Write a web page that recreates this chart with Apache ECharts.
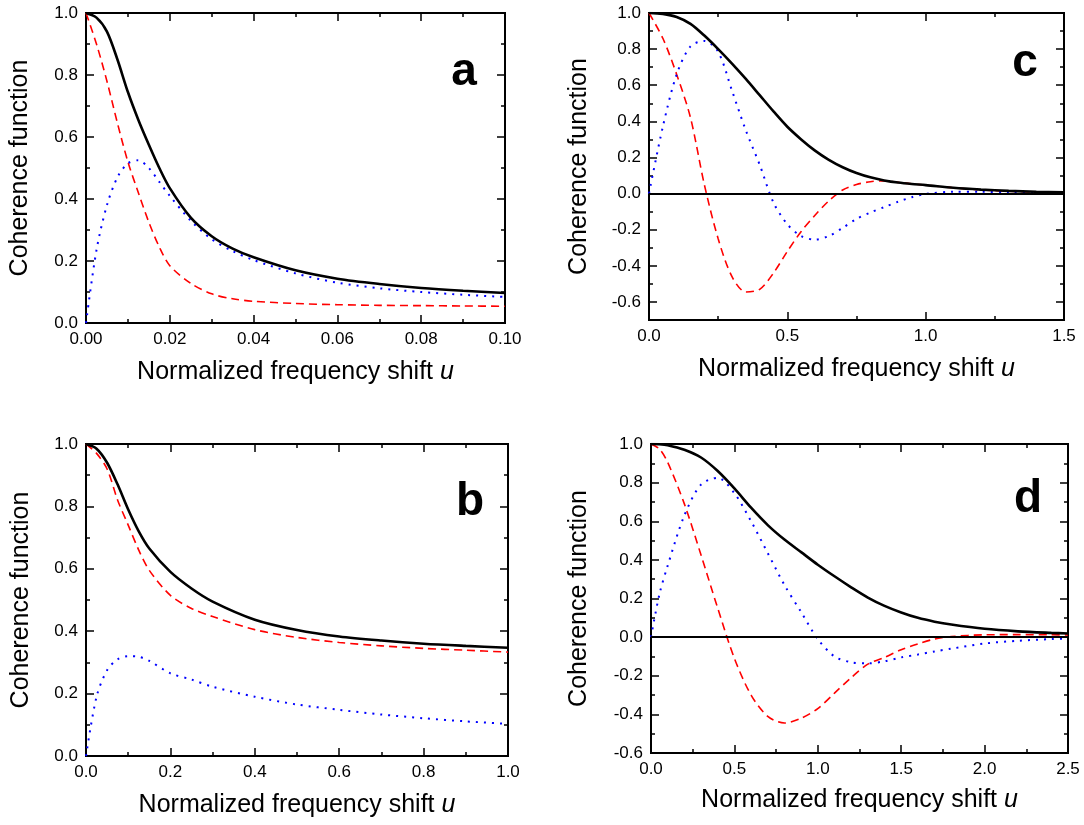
<!DOCTYPE html>
<html>
<head>
<meta charset="utf-8">
<script src="https://cdn.jsdelivr.net/npm/echarts@6/dist/echarts.min.js"></script>
<style>
html,body{margin:0;padding:0;background:#fff;}
#chart{width:1084px;height:825px;}
</style>
</head>
<body>
<div id="chart"></div>
<script>
// ---------- Panel a ----------
const aU      = [0, 0.0025, 0.005, 0.0075, 0.01, 0.0125, 0.015, 0.0175, 0.02, 0.025, 0.03, 0.035, 0.04, 0.05, 0.06, 0.07, 0.08, 0.09, 0.10];
const aSolid  = [1.0, 0.985, 0.94, 0.85, 0.745, 0.655, 0.575, 0.50, 0.435, 0.34, 0.28, 0.24, 0.212, 0.17, 0.143, 0.126, 0.113, 0.104, 0.097];
const aDashed = [1.0, 0.90, 0.78, 0.645, 0.52, 0.42, 0.325, 0.245, 0.185, 0.128, 0.094, 0.078, 0.07, 0.063, 0.059, 0.057, 0.056, 0.055, 0.054];
const aDotted = [0.0, 0.235, 0.38, 0.47, 0.515, 0.525, 0.50, 0.455, 0.41, 0.33, 0.27, 0.232, 0.203, 0.16, 0.13, 0.112, 0.10, 0.091, 0.084];
const aXMajor = [0, 0.02, 0.04, 0.06, 0.08, 0.10];
const aXMinor = [0.01, 0.03, 0.05, 0.07, 0.09];

// ---------- Panel b ----------
const bU      = [0, 0.025, 0.05, 0.075, 0.1, 0.125, 0.15, 0.2, 0.25, 0.3, 0.4, 0.5, 0.6, 0.7, 0.8, 0.9, 1.0];
const bSolid  = [1.0, 0.985, 0.94, 0.87, 0.79, 0.72, 0.665, 0.59, 0.537, 0.495, 0.437, 0.404, 0.383, 0.37, 0.36, 0.353, 0.347];
const bDashed = [1.0, 0.97, 0.92, 0.82, 0.74, 0.66, 0.595, 0.515, 0.473, 0.447, 0.405, 0.38, 0.364, 0.353, 0.345, 0.339, 0.333];
const bDotted = [0.0, 0.19, 0.275, 0.31, 0.32, 0.318, 0.305, 0.265, 0.245, 0.222, 0.19, 0.165, 0.148, 0.133, 0.121, 0.111, 0.103];
const bXMajor = [0, 0.2, 0.4, 0.6, 0.8, 1.0];
const bXMinor = [0.1, 0.3, 0.5, 0.7, 0.9];

// ---------- Panel c ----------
const cU      = [0, 0.05, 0.1, 0.15, 0.2, 0.25, 0.3, 0.35, 0.4, 0.45, 0.5, 0.55, 0.6, 0.65, 0.7, 0.75, 0.8, 0.85, 0.9, 0.95, 1.0, 1.1, 1.2, 1.3, 1.4, 1.5];
const cSolid  = [1.0, 0.995, 0.978, 0.94, 0.875, 0.80, 0.72, 0.635, 0.545, 0.455, 0.37, 0.30, 0.238, 0.187, 0.146, 0.114, 0.09, 0.073, 0.061, 0.053, 0.047, 0.032, 0.022, 0.015, 0.01, 0.007];
const cDashed = [1.0, 0.86, 0.66, 0.42, 0.05, -0.25, -0.46, -0.545, -0.53, -0.44, -0.32, -0.21, -0.12, -0.04, 0.02, 0.05, 0.066, 0.07, 0.062, 0.054, 0.047, 0.032, 0.021, 0.013, 0.008, 0.005];
const cDotted = [0.0, 0.37, 0.66, 0.815, 0.845, 0.785, 0.57, 0.35, 0.16, -0.05, -0.17, -0.235, -0.255, -0.235, -0.19, -0.14, -0.105, -0.075, -0.045, -0.02, -0.002, 0.01, 0.01, 0.007, 0.004, 0.002];
const cXMajor = [0, 0.5, 1.0, 1.5];
const cXMinor = [0.25, 0.75, 1.25];

// ---------- Panel d ----------
const dU      = [0, 0.05, 0.1, 0.2, 0.3, 0.4, 0.5, 0.6, 0.7, 0.8, 0.9, 1.0, 1.1, 1.2, 1.3, 1.4, 1.5, 1.6, 1.7, 1.8, 2.0, 2.2, 2.4, 2.5];
const dSolid  = [1.0, 0.999, 0.994, 0.97, 0.93, 0.86, 0.77, 0.67, 0.58, 0.505, 0.44, 0.375, 0.315, 0.258, 0.205, 0.162, 0.128, 0.1, 0.08, 0.065, 0.043, 0.03, 0.022, 0.019];
const dDashed = [1.0, 0.975, 0.905, 0.69, 0.425, 0.15, -0.11, -0.3, -0.41, -0.445, -0.42, -0.37, -0.29, -0.21, -0.14, -0.105, -0.065, -0.035, -0.01, 0.003, 0.012, 0.013, 0.012, 0.011];
const dDotted = [0.0, 0.22, 0.37, 0.63, 0.79, 0.825, 0.745, 0.6, 0.435, 0.27, 0.13, -0.01, -0.1, -0.13, -0.136, -0.125, -0.105, -0.09, -0.074, -0.06, -0.033, -0.019, -0.01, -0.007];
const dXMajor = [0, 0.5, 1.0, 1.5, 2.0, 2.5];
const dXMinor = [0.25, 0.75, 1.25, 1.75, 2.25];

// ---------- y ticks ----------
const abYMajor = [0, 0.2, 0.4, 0.6, 0.8, 1.0];
const abYMinor = [0.1, 0.3, 0.5, 0.7, 0.9];
const cYMajor  = [-0.6, -0.4, -0.2, 0, 0.2, 0.4, 0.6, 0.8, 1.0];
const cYMinor  = [-0.7, -0.5, -0.3, -0.1, 0.1, 0.3, 0.5, 0.7, 0.9];
const dYMajor  = [-0.6, -0.4, -0.2, 0, 0.2, 0.4, 0.6, 0.8, 1.0];
const dYMinor  = [-0.5, -0.3, -0.1, 0.1, 0.3, 0.5, 0.7, 0.9];

const xTitle = 'Normalized frequency shift {i|u}';
const yTitle = 'Coherence function';

const FONT = '"Liberation Sans", Arial, sans-serif';

const panels = [
  { letter: 'a', grid: {left: 86, top: 13, width: 419, height: 310}, u: aU, solid: aSolid, dashed: aDashed, dotted: aDotted,
    xMin: 0, xMax: 0.1, xMajor: aXMajor, xMinor: aXMinor, xDec: 2, yMin: 0, yMax: 1, yMajor: abYMajor, yMinor: abYMinor,
    zero: false, yGap: 53, xGap: 37, lx: 464, ly: 72 },
  { letter: 'b', grid: {left: 86, top: 444, width: 422, height: 312}, u: bU, solid: bSolid, dashed: bDashed, dotted: bDotted,
    xMin: 0, xMax: 1, xMajor: bXMajor, xMinor: bXMinor, xDec: 1, yMin: 0, yMax: 1, yMajor: abYMajor, yMinor: abYMinor,
    zero: false, yGap: 52, xGap: 37, lx: 470, ly: 502 },
  { letter: 'c', grid: {left: 649, top: 13, width: 415, height: 307}, u: cU, solid: cSolid, dashed: cDashed, dotted: cDotted,
    xMin: 0, xMax: 1.5, xMajor: cXMajor, xMinor: cXMinor, xDec: 1, yMin: -0.7, yMax: 1, yMajor: cYMajor, yMinor: cYMinor,
    zero: true, yGap: 57, xGap: 37, lx: 1025, ly: 63 },
  { letter: 'd', grid: {left: 651, top: 444, width: 417, height: 309}, u: dU, solid: dSolid, dashed: dDashed, dotted: dDotted,
    xMin: 0, xMax: 2.5, xMajor: dXMajor, xMinor: dXMinor, xDec: 1, yMin: -0.6, yMax: 1, yMajor: dYMajor, yMinor: dYMinor,
    zero: true, yGap: 59, xGap: 35, lx: 1028, ly: 499 }
];

const grids = [], xAxes = [], yAxes = [], series = [], graphics = [];

function tickAxis(gi, pos, min, max, vals, len, label, dec, nameOpt) {
  const ax = {
    type: 'value', gridIndex: gi, position: pos, min: min, max: max,
    axisLine: {show: false, onZero: false},
    splitLine: {show: false},
    axisTick: {show: true, inside: true, length: len, customValues: vals, lineStyle: {color: '#000', width: 1.5}},
    axisLabel: label ? {
      show: true, customValues: vals, color: '#000', fontSize: 17, fontFamily: FONT, margin: 8,
      formatter: function (v) { return Number(v).toFixed(dec); }
    } : {show: false}
  };
  if (nameOpt) Object.assign(ax, nameOpt);
  return ax;
}

panels.forEach(function (p, gi) {
  grids.push(Object.assign({show: true, borderColor: '#000', borderWidth: 2, backgroundColor: 'transparent', containLabel: false}, p.grid));
  const xi = xAxes.length, yi = yAxes.length;
  xAxes.push(tickAxis(gi, 'bottom', p.xMin, p.xMax, p.xMajor, 8, true, p.xDec, {
    name: xTitle, nameLocation: 'middle', nameGap: p.xGap,
    nameTextStyle: {fontSize: 25, color: '#000', fontFamily: FONT, rich: {i: {fontSize: 25, fontStyle: 'italic', fontFamily: FONT, color: '#000'}}}
  }));
  xAxes.push(tickAxis(gi, 'top', p.xMin, p.xMax, p.xMajor, 8, false));
  xAxes.push(tickAxis(gi, 'bottom', p.xMin, p.xMax, p.xMinor, 4, false));
  xAxes.push(tickAxis(gi, 'top', p.xMin, p.xMax, p.xMinor, 4, false));
  yAxes.push(tickAxis(gi, 'left', p.yMin, p.yMax, p.yMajor, 8, true, 1, {
    name: yTitle, nameLocation: 'middle', nameGap: p.yGap,
    nameTextStyle: {fontSize: 25, color: '#000', fontFamily: FONT}
  }));
  yAxes.push(tickAxis(gi, 'right', p.yMin, p.yMax, p.yMajor, 8, false));
  yAxes.push(tickAxis(gi, 'left', p.yMin, p.yMax, p.yMinor, 4, false));
  yAxes.push(tickAxis(gi, 'right', p.yMin, p.yMax, p.yMinor, 4, false));

  const pts = function (ys) { return p.u.map(function (x, i) { return [x, ys[i]]; }); };
  series.push({
    type: 'line', xAxisIndex: xi, yAxisIndex: yi, data: pts(p.dashed), showSymbol: false, smooth: 0.3,
    lineStyle: {color: '#ff0000', width: 1.6, type: [8, 5]}, z: 2
  });
  series.push({
    type: 'line', xAxisIndex: xi, yAxisIndex: yi, data: pts(p.dotted), showSymbol: false, smooth: 0.3,
    lineStyle: {color: '#0000ff', width: 2, type: [2, 6]}, z: 3
  });
  const solid = {
    type: 'line', xAxisIndex: xi, yAxisIndex: yi, data: pts(p.solid), showSymbol: false, smooth: 0.3,
    lineStyle: {color: '#000', width: 2.6, type: 'solid'}, z: 4
  };
  if (p.zero) {
    solid.markLine = {silent: true, symbol: 'none', label: {show: false},
      lineStyle: {color: '#000', width: 2, type: 'solid'}, data: [{yAxis: 0}]};
  }
  series.push(solid);

  graphics.push({
    type: 'text', x: p.lx, y: p.ly, z: 10,
    style: {text: p.letter, fill: '#000', font: 'bold 46px "Liberation Sans", Arial, sans-serif',
      align: 'center', verticalAlign: 'middle', textAlign: 'center', textVerticalAlign: 'middle'}
  });
});

const chart = echarts.init(document.getElementById('chart'), null, {renderer: 'canvas'});
chart.setOption({
  animation: false,
  backgroundColor: '#fff',
  grid: grids,
  xAxis: xAxes,
  yAxis: yAxes,
  series: series,
  graphic: graphics
});
</script>
</body>
</html>
